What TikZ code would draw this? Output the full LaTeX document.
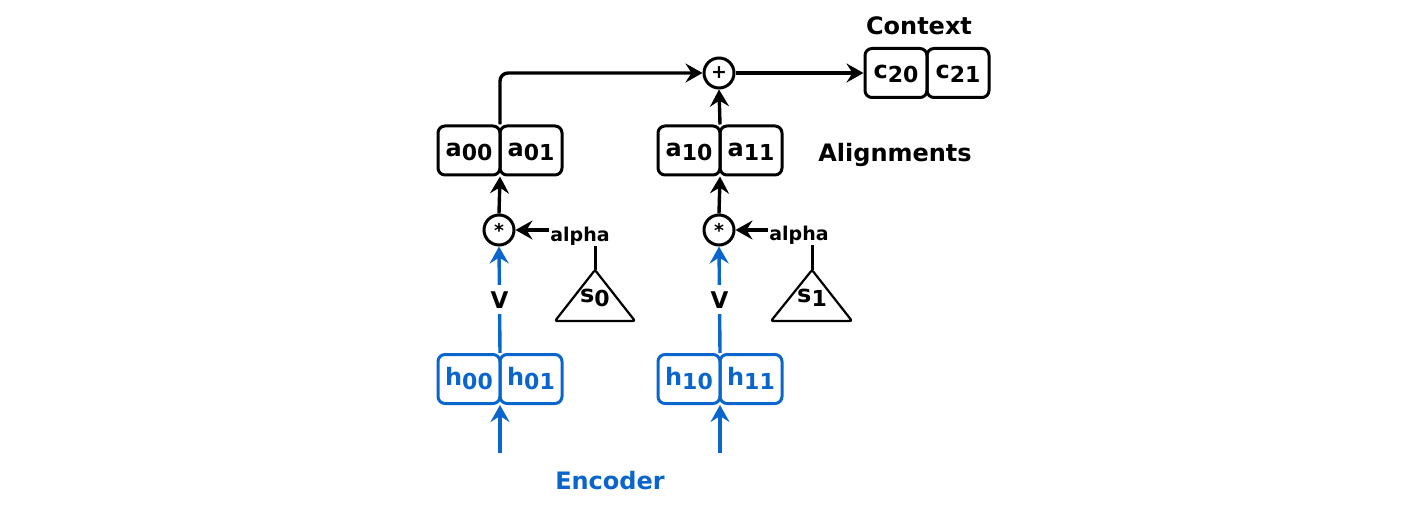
\documentclass[tikz,border=0pt]{standalone}
\usepackage{fontspec}
\setmainfont{DejaVu Sans}
\usepackage{graphicx}
\usetikzlibrary{arrows.meta,calc}
\definecolor{encblue}{RGB}{10,102,204}
\newcommand\lsub[2]{{\fontsize{24}{26}\selectfont #1}\raisebox{-4pt}{\fontsize{22}{24}\selectfont #2}}
\tikzset{
  cell/.style={draw, line width=3pt, rounded corners=7pt, minimum width=62pt, minimum height=49pt,
    inner sep=0pt, text height=14pt, text depth=2pt, font=\bfseries},
  bluecell/.style={cell, draw=encblue, text=encblue},
  op/.style={draw, circle, line width=3pt, minimum size=30pt, inner sep=0pt, font=\fontsize{19}{20}\selectfont\bfseries},
  arr/.style={line width=3.4pt, -{Stealth[length=17pt, width=19pt, inset=6pt]}},
  bluearr/.style={arr, draw=encblue},
  tri/.style={line width=2.2pt, line join=round, rounded corners=2pt},
  lab/.style={font=\fontsize{24}{28}\selectfont\bfseries, inner sep=1pt},
  alab/.style={font=\fontsize{19}{22}\selectfont\bfseries, inner sep=1pt},
  vlab/.style={font=\fontsize{23}{24}\selectfont\bfseries, fill=white, inner xsep=2pt, inner ysep=6pt},
  slab/.style={inner sep=0pt, text height=14pt, text depth=2pt, font=\bfseries}
}
\begin{document}
\begin{tikzpicture}[x=1pt,y=-1pt]
\useasboundingbox (0,0) rectangle (1426,510);
% alignment boxes
\node[cell] (a00) at (469,150.5) {\lsub{a}{00}};
\node[cell] (a01) at (531,150.5) {\lsub{a}{01}};
\node[cell] (a10) at (689,150.5) {\lsub{a}{10}};
\node[cell] (a11) at (751,150.5) {\lsub{a}{11}};
% encoder boxes
\node[bluecell] (h00) at (469,379) {\lsub{h}{00}};
\node[bluecell] (h01) at (531,379) {\lsub{h}{01}};
\node[bluecell] (h10) at (689,379) {\lsub{h}{10}};
\node[bluecell] (h11) at (751,379) {\lsub{h}{11}};
% context boxes
\node[cell] (c20) at (896,73) {\lsub{c}{20}};
\node[cell] (c21) at (958,73) {\lsub{c}{21}};
% shared-border points
\coordinate (a0t) at ($(a00.north east)!.5!(a01.north west)$);
\coordinate (a0b) at ($(a00.south east)!.5!(a01.south west)$);
\coordinate (a1t) at ($(a10.north east)!.5!(a11.north west)$);
\coordinate (a1b) at ($(a10.south east)!.5!(a11.south west)$);
\coordinate (h0t) at ($(h00.north east)!.5!(h01.north west)$);
\coordinate (h0b) at ($(h00.south east)!.5!(h01.south west)$);
\coordinate (h1t) at ($(h10.north east)!.5!(h11.north west)$);
\coordinate (h1b) at ($(h10.south east)!.5!(h11.south west)$);
% operators
\node[op] (plus) at (719,73) {+};
\node[op] (star0) at (499,230) {*};
\node[op] (star1) at (719,230) {*};
% triangles
\coordinate (s0top) at (595,270);
\draw[tri] (s0top) -- (555,321) -- (635,321) -- cycle;
\node[slab] (s0) at (595,297) {\lsub{s}{0}};
\coordinate (s1top) at (812,270);
\draw[tri] (s1top) -- (771,321) -- (852,321) -- cycle;
\node[slab] (s1) at (812,297) {\lsub{s}{1}};
% alpha labels
\node[alab] (al0) at (580,236) {alpha};
\node[alab] (al1) at (799,235) {alpha};
\draw[line width=3pt] (s0top) -- (s0top |- al0.south);
\draw[line width=3pt] (s1top) -- (s1top |- al1.south);
\draw[arr] (al0.west |- star0) -- (star0.east);
\draw[arr] (al1.west |- star1) -- (star1.east);
% encoder inputs
\coordinate (in0) at (500,453);
\coordinate (in1) at (720,453);
\draw[bluearr] (in0) -- (h0b);
\draw[bluearr] (in1) -- (h1b);
% V arrows
\draw[bluearr] (h0t) -- node[vlab, text=black] (v0) {V} (star0.south);
\draw[bluearr] (h1t) -- node[vlab, text=black] (v1) {V} (star1.south);
% star to alignments
\draw[arr] (star0.north) -- (a0b);
\draw[arr] (star1.north) -- (a1b);
% alignments to plus
\draw[arr, rounded corners=8pt] (a0t) |- (plus.west);
\draw[arr] (a1t) -- (plus.south);
\draw[arr] (plus.east) -- (c20.west);
% titles
\node[lab] (ctx) at (919,26) {Context};
\node[lab] (aln) at (895,155) {Alignments};
\node[lab, text=encblue] (enc) at (610,481) {Encoder};
\end{tikzpicture}
\end{document}
